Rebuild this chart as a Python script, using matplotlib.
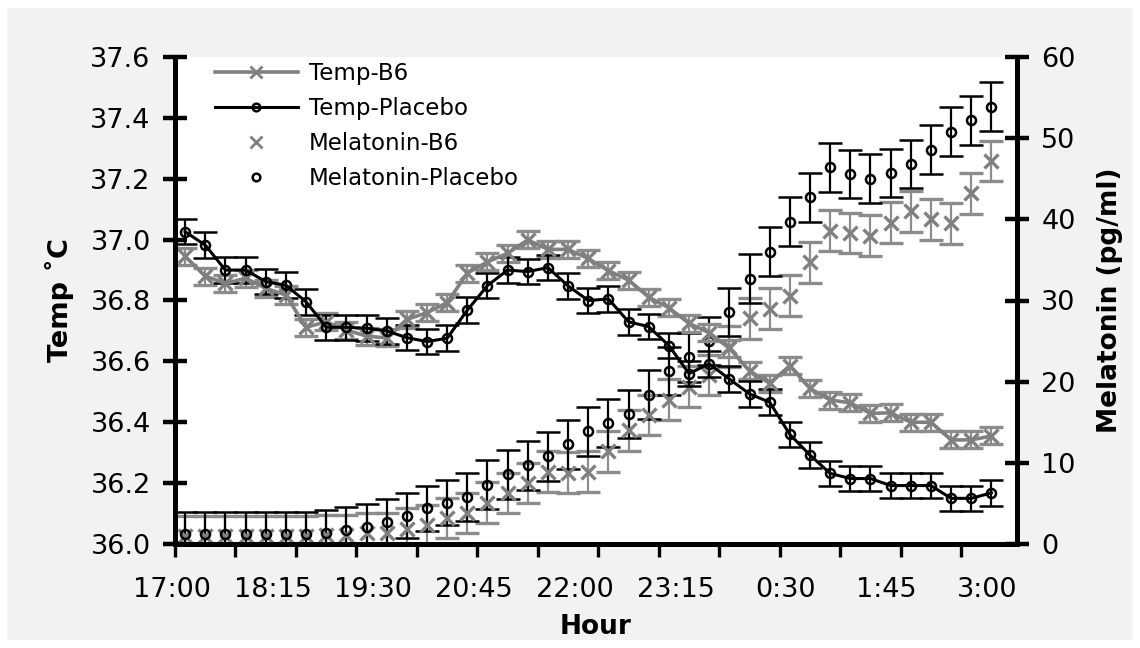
import matplotlib
matplotlib.use("Agg")
import matplotlib.pyplot as plt
import numpy as np
from matplotlib.lines import Line2D
from matplotlib.patches import Rectangle

# x axis: 41 readings, 15 min apart, from 17:00 to 3:00
hour_labels = ["17:00", "18:15", "19:30", "20:45", "22:00", "23:15", "0:30", "1:45", "3:00"]

temp_b6 = [36.945, 36.880, 36.856, 36.873, 36.840, 36.818, 36.712, 36.730, 36.703, 36.683,
           36.677, 36.738, 36.760, 36.793, 36.890, 36.927, 36.955, 36.999, 36.968, 36.968,
           36.938, 36.898, 36.867, 36.811, 36.776, 36.725, 36.694, 36.643, 36.569, 36.528,
           36.586, 36.511, 36.473, 36.464, 36.429, 36.431, 36.400, 36.400, 36.342, 36.342,
           36.355]
temp_b6_err = [0.028] * 41

temp_placebo = [37.026, 36.982, 36.900, 36.900, 36.862, 36.850, 36.796, 36.712, 36.712, 36.709,
                36.700, 36.678, 36.665, 36.676, 36.768, 36.849, 36.900, 36.895, 36.908, 36.848,
                36.800, 36.805, 36.730, 36.714, 36.652, 36.560, 36.592, 36.542, 36.493, 36.466,
                36.360, 36.292, 36.232, 36.215, 36.215, 36.192, 36.192, 36.192, 36.150, 36.150,
                36.168]
temp_placebo_err = [0.042] * 41

mel_b6 = [1.0, 1.0, 1.0, 1.0, 1.0, 1.0, 1.0, 1.1, 1.1, 1.3,
          1.3, 1.9, 2.3, 3.2, 3.8, 5.1, 6.3, 7.5, 8.9, 8.8,
          8.9, 11.4, 14.0, 15.9, 17.8, 19.4, 20.8, 24.3, 27.8, 29.0,
          30.6, 34.7, 38.6, 38.3, 38.0, 39.6, 41.0, 40.0, 39.5, 43.2,
          47.2]
mel_b6_err = [2.5] * 41

mel_placebo = [1.2, 1.2, 1.2, 1.2, 1.2, 1.2, 1.2, 1.4, 1.7, 2.1,
               2.7, 3.5, 4.4, 5.1, 5.8, 7.3, 8.6, 9.7, 10.8, 12.3,
               13.9, 14.9, 16.0, 18.4, 21.3, 23.0, 25.0, 28.6, 32.7, 36.0,
               39.7, 42.7, 46.4, 45.6, 45.0, 45.7, 46.8, 48.6, 50.8, 52.2,
               53.9]
mel_placebo_err = [2.8] * 14 + [3.0] * 27

GRAY = "#808080"
GRAY_ERR = "#8c8c8c"

plt.rcParams["font.family"] = ["DejaVu Sans"]

fig = plt.figure(figsize=(11.4, 6.48), dpi=100)
fig.patches.append(Rectangle((7 / 1140, 8 / 648), 1126 / 1140, 632 / 648,
                             transform=fig.transFigure, facecolor="#f2f2f2",
                             edgecolor="none", zorder=-10))

ax = fig.add_axes([175 / 1140, 1 - 544 / 648, 842 / 1140, 487 / 648])
ax2 = ax.twinx()

x = np.arange(len(temp_b6))

err_kw = dict(capsize=8.5, elinewidth=1.6, capthick=1.6)

# melatonin (right axis)
ax2.errorbar(x, mel_b6, yerr=mel_b6_err, fmt="x", color=GRAY, ecolor=GRAY_ERR,
             ms=10, mew=2.4, **err_kw)
ax2.errorbar(x, mel_placebo, yerr=mel_placebo_err, fmt="o", color="black", ecolor="black",
             ms=6.5, mew=1.8, mfc="none", **err_kw)

# temperature (left axis)
ax.errorbar(x, temp_b6, yerr=temp_b6_err, fmt="-x", color=GRAY, ecolor=GRAY_ERR,
            lw=2.6, ms=10.5, mew=2.4, **err_kw)
ax.errorbar(x, temp_placebo, yerr=temp_placebo_err, fmt="-o", color="black", ecolor="black",
            lw=2.2, ms=6.5, mew=1.8, mfc="none", **err_kw)

# temperature lines over melatonin, white plot area behind both
ax.set_zorder(ax2.get_zorder() + 1)
ax.patch.set_visible(False)
ax2.patch.set_visible(True)
ax2.patch.set_facecolor("white")

ax.set_xlim(-0.5, 40.5)
ax.set_ylim(36.0, 37.6)
ax2.set_ylim(0, 60)

ticks_t = np.arange(36.0, 37.61, 0.2)
ax.set_yticks(ticks_t)
ax.set_yticklabels([f"{v:.1f}" for v in ticks_t])
ax2.set_yticks(np.arange(0, 61, 10))

# x tick marks every three readings, labels every five
ax.set_xticks(np.arange(-0.5, 40, 3), minor=True)
ax.set_xticks(np.arange(0, 41, 5) + 1.27)
ax.set_xticklabels(hour_labels, ha="right")
ax.tick_params(axis="x", which="major", length=0, pad=24, labelsize=19.5)
ax.tick_params(axis="x", which="minor", direction="out", length=9, width=2.4)
ax.tick_params(axis="y", direction="inout", length=17, width=3.2, labelsize=19.5, pad=9)
ax2.tick_params(axis="y", direction="inout", length=17, width=3.2, labelsize=19.5, pad=9)

for a in (ax, ax2):
    a.spines["top"].set_visible(False)
    for s in ("left", "right", "bottom"):
        a.spines[s].set_linewidth(3.6)

ax.set_ylabel("Temp ˚C", fontsize=19.5, fontweight="bold", labelpad=12)
ax2.set_ylabel("Melatonin (pg/ml)", fontsize=19, fontweight="bold", labelpad=15)
ax.set_xlabel("Hour", fontsize=19, fontweight="bold", labelpad=8)

handles = [
    Line2D([], [], color=GRAY, lw=2.6, marker="x", ms=8, mew=2),
    Line2D([], [], color="black", lw=2.2, marker="o", ms=5.5, mew=1.8, mfc="none"),
    Line2D([], [], color=GRAY, lw=0, marker="x", ms=8, mew=2),
    Line2D([], [], color="black", lw=0, marker="o", ms=5.5, mew=1.8, mfc="none"),
]
labels = ["Temp-B6", "Temp-Placebo", "Melatonin-B6", "Melatonin-Placebo"]
ax.legend(handles, labels, loc="upper left", bbox_to_anchor=(215 / 1140, 1 - 62 / 648),
          bbox_transform=fig.transFigure, frameon=False, fontsize=16.5,
          handlelength=3.6, handletextpad=0.5, labelspacing=0.52,
          borderpad=0, borderaxespad=0)

fig.savefig("out.png", dpi=100, facecolor="white")
